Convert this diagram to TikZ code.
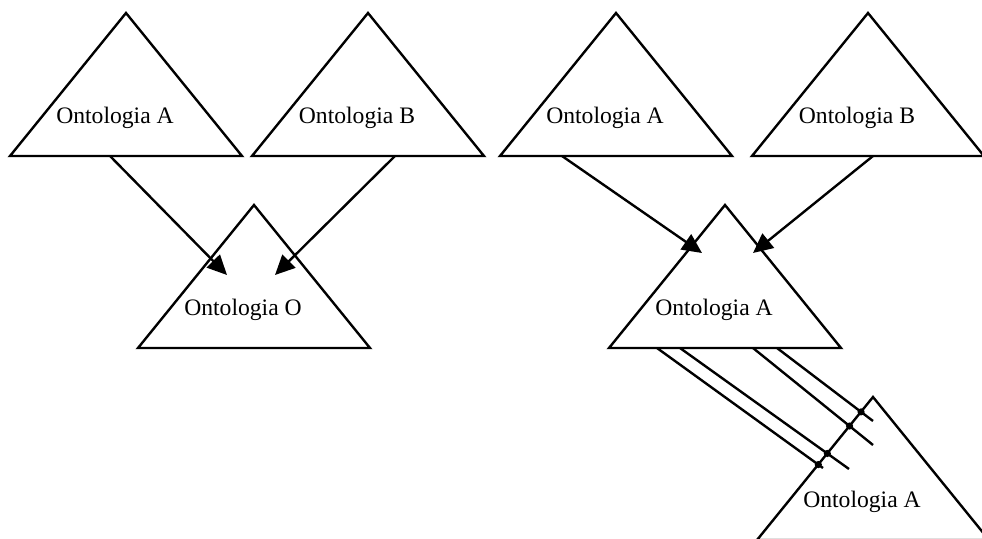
\documentclass[tikz,border=0pt]{standalone}
\usepackage{fontspec}
\setmainfont{Liberation Serif}
\usetikzlibrary{arrows.meta}

\begin{document}
\begin{tikzpicture} [
						x=0.025cm, y=-0.025cm,
						line width=1.7pt,
						>={Triangle[length=14pt,width=13pt]},
						onto/.style={font=\fontsize{16.8}{20}\selectfont, inner sep=0pt, anchor=base},
						pics/tri/.style={code={\draw[line join=miter] (0,0) -- (-116,143) -- (116,143) -- cycle;}}
					]
\useasboundingbox (0,0) rectangle (982,539);

% apexes
\coordinate (la) at (126,13);
\coordinate (lb) at (368,13);
\coordinate (lo) at (254,205);
\coordinate (ra) at (616,13);
\coordinate (rb) at (868,13);
\coordinate (rm) at (725,205);
\coordinate (rx) at (873,397);
\coordinate (rx-l) at (757,540);

\foreach \t in {la,lb,lo,ra,rb,rm,rx}
	\pic at (\t) {tri};

\node (la-t) [onto] at ([shift={(-11,110)}]la) {Ontologia A};
\node (lb-t) [onto] at ([shift={(-11,110)}]lb) {Ontologia B};
\node (lo-t) [onto] at ([shift={(-11,110)}]lo) {Ontologia O};
\node (ra-t) [onto] at ([shift={(-11,110)}]ra) {Ontologia A};
\node (rb-t) [onto] at ([shift={(-11,110)}]rb) {Ontologia B};
\node (rm-t) [onto] at ([shift={(-11,110)}]rm) {Ontologia A};
\node (rx-t) [onto] at ([shift={(-11,110)}]rx) {Ontologia A};

% arrows
\coordinate (la-s) at (110,156);
\coordinate (lb-s) at (395,156);
\coordinate (lo-a) at (227,275);
\coordinate (lo-b) at (275,275);
\coordinate (ra-s) at (562,156);
\coordinate (rb-s) at (873,156);
\coordinate (rm-a) at (702,253);
\coordinate (rm-b) at (753,253);

\draw[->] (la-s) -- (lo-a);
\draw[->] (lb-s) -- (lo-b);
\draw[->] (ra-s) -- (rm-a);
\draw[->] (rb-s) -- (rm-b);

% links
\foreach \sx/\ex/\ey in {657/823/468, 680/849/469, 753/873/445, 777/873/421} {
	\coordinate (s) at (\sx,348);
	\coordinate (e) at (\ex,\ey);
	\draw (s) -- (e);
	\fill (intersection of s--e and rx--rx-l) circle (3.6);
}
\end{tikzpicture}
\end{document}
